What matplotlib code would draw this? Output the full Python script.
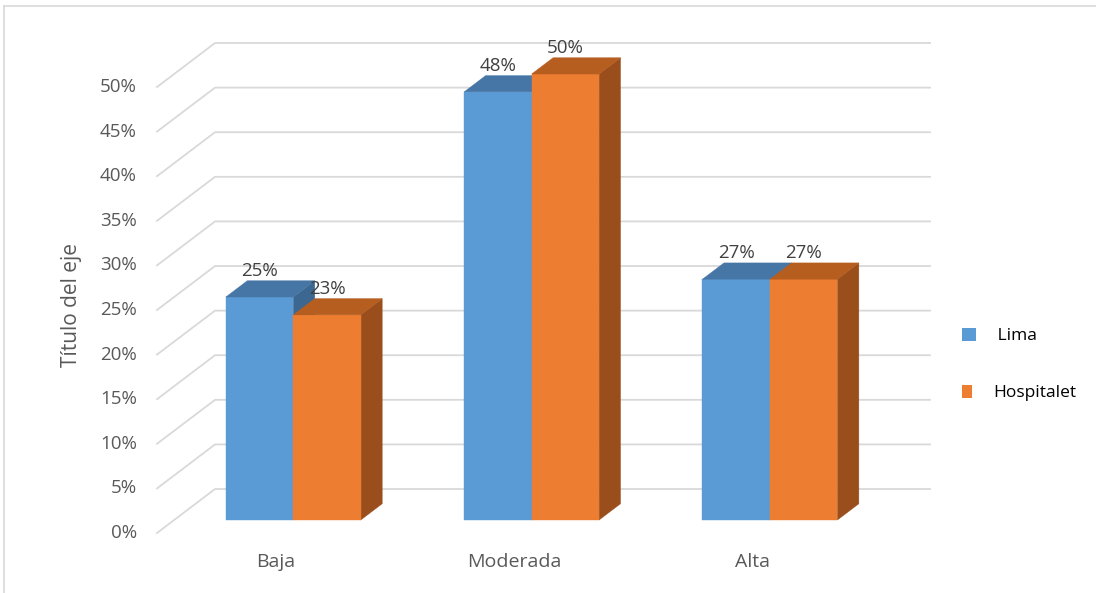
import matplotlib
matplotlib.use("Agg")
import matplotlib.pyplot as plt
from matplotlib.patches import Polygon, Rectangle
from matplotlib.lines import Line2D

plt.rcParams["font.family"] = ["Open Sans", "DejaVu Sans"]

# datos
categorias = ["Baja", "Moderada", "Alta"]
lima = [25, 48, 27]
hospitalet = [23, 50, 27]
series = [" Lima", "Hospitalet"]
ticks = list(range(0, 55, 5))

# colores (frente, tapa, lado)
col_lima = ("#5b9bd5", "#4676a6", "#3b6790")
col_hosp = ("#ed7d31", "#b65d20", "#9a4e1c")

# geometria del efecto 3D (en unidades de datos)
DX = 0.2434   # desplazamiento total en x hacia el fondo
DY = 4.93     # desplazamiento total en y hacia el fondo
F0 = 0.295    # profundidad del frente de las barras
FD = 0.37     # profundidad de las barras
ANCHO = 0.283

W, H = 1096, 593
fig = plt.figure(figsize=(W / 100, H / 100), dpi=100)
ax = fig.add_axes([157 / W, 60 / H, 715 / W, 446 / H])
ax.set_xlim(-0.5, 2.5)
ax.set_ylim(0, 50)
ax.axis("off")

# borde del grafico
fig.add_artist(Line2D([4 / W, 4 / W], [0, 1 - 6 / H], color="#d9d9d9", lw=1.2))
fig.add_artist(Line2D([4 / W, 1], [1 - 6 / H, 1 - 6 / H], color="#d9d9d9", lw=1.2))

# lineas de cuadricula
for v in ticks:
    ax.plot([-0.5, -0.5 + DX, 2.5 + DX], [v, v + DY, v + DY], color="#d9d9d9",
            lw=1.3, clip_on=False, zorder=1)
    ax.text(-0.584, v, f"{v}%", ha="right", va="center", fontsize=13.5,
            color="#595959", clip_on=False)


def barra(x0, h, cols):
    dx0, dy0 = DX * F0, DY * F0
    dx1, dy1 = DX * (F0 + FD), DY * (F0 + FD)
    x1 = x0 + ANCHO
    frente = [(x0 + dx0, dy0), (x1 + dx0, dy0), (x1 + dx0, h + dy0), (x0 + dx0, h + dy0)]
    tapa = [(x0 + dx0, h + dy0), (x1 + dx0, h + dy0), (x1 + dx1, h + dy1), (x0 + dx1, h + dy1)]
    lado = [(x1 + dx0, dy0), (x1 + dx1, dy1), (x1 + dx1, h + dy1), (x1 + dx0, h + dy0)]
    for pts, c in [(lado, cols[2]), (frente, cols[0]), (tapa, cols[1])]:
        ax.add_patch(Polygon(pts, closed=True, facecolor=c, edgecolor=c, lw=0.3,
                             clip_on=False, zorder=3))
    ax.text(x0 + dx0 + ANCHO / 2, h + dy1 + 0.1, f"{h}%", ha="center", va="bottom",
            fontsize=13.5, color="#404040", zorder=5, clip_on=False)


for i, cat in enumerate(categorias):
    barra(i - ANCHO, lima[i], col_lima)
    barra(i, hospitalet[i], col_hosp)
    ax.text(i, -3.25, cat, ha="center", va="center", fontsize=14, color="#595959",
            clip_on=False)

ax.text(-0.857, 25.6, "Título del eje", rotation=90, ha="center", va="center",
        fontsize=15, color="#595959", clip_on=False)

# leyenda
for (x, y, w, h), col, lab, tx in [((962, 328, 14, 13), col_lima[0], series[0], 993),
                                   ((962, 385, 10, 13), col_hosp[0], series[1], 993)]:
    fig.add_artist(Rectangle((x / W, 1 - (y + h) / H), w / W, h / H,
                             facecolor=col, edgecolor="none"))
    fig.text(tx / W, 1 - (y + 8) / H, lab, ha="left", va="center", fontsize=12.5,
             color="#000000")

fig.savefig("out.png", dpi=100)
